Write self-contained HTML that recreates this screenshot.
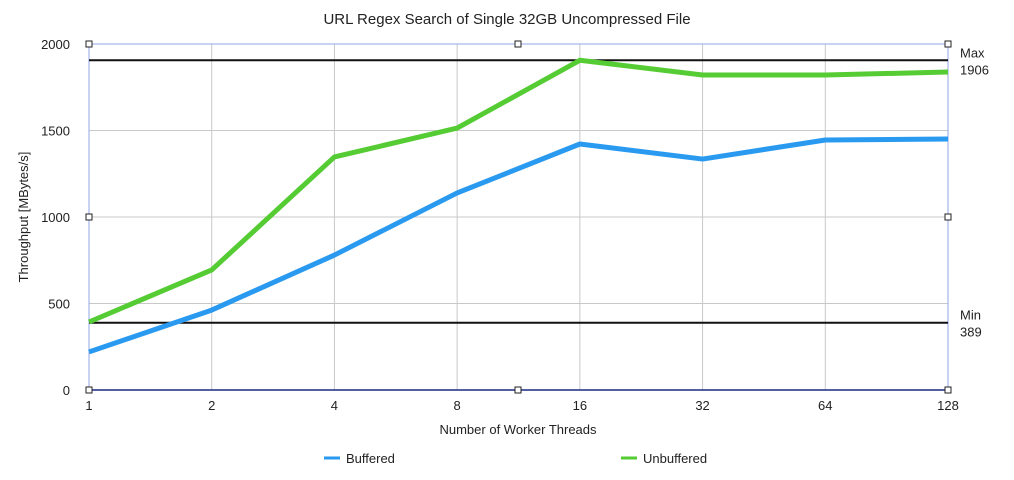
<!DOCTYPE html>
<html><head><meta charset="utf-8"><style>
body{margin:0;background:#fff;}
svg{display:block;font-family:"Liberation Sans",sans-serif;}
</style></head><body>
<svg id="c" width="1014" height="480" viewBox="0 0 1014 480"></svg>
<script>
const categories=["1","2","4","8","16","32","64","128"];
const buffered=[220,462,780,1139,1422,1335,1445,1451];
const unbuffered=[393,694,1347,1514,1906,1821,1821,1838];
const yTicks=[0,500,1000,1500,2000];
const maxVal=1906, minVal=389;
const NS="http://www.w3.org/2000/svg";
const svg=document.getElementById('c');
const X0=89,X1=948,Y0=390,Y1=44;
const x=i=>X0+i*(X1-X0)/(categories.length-1);
const y=v=>Y0-v*(Y0-Y1)/2000;
function el(t,a,p){const e=document.createElementNS(NS,t);for(const k in a)e.setAttribute(k,a[k]);(p||svg).appendChild(e);return e;}
let t=el('text',{x:507,y:24,'text-anchor':'middle','font-size':15,fill:'#222'});t.textContent="URL Regex Search of Single 32GB Uncompressed File";

yTicks.forEach(v=>{
 const g=el('line',{x1:X0,x2:X1,y1:y(v),y2:y(v),stroke:'#c8c8c8','stroke-width':1});
 
 const l=el('text',{x:70,y:y(v)+5,'text-anchor':'end','font-size':13,fill:'#222'});l.textContent=v;
 
});
categories.forEach((c,i)=>{
 const g=el('line',{x1:x(i),x2:x(i),y1:Y1,y2:Y0,stroke:'#c8c8c8','stroke-width':1});
 
 const l=el('text',{x:x(i),y:410,'text-anchor':'middle','font-size':13,fill:'#222'});l.textContent=c;
 
});
let b=el('rect',{x:X0,y:Y1,width:X1-X0,height:Y0-Y1,fill:'none',stroke:'#8fa6e8','stroke-width':1});

let ax=el('line',{x1:X0,x2:X1,y1:Y0,y2:Y0,stroke:'#1a2a80','stroke-width':1.5});

[[maxVal,"Max"],[minVal,"Min"]].forEach(([v,n])=>{
 const l=el('line',{x1:X0,x2:X1,y1:y(v),y2:y(v),stroke:'#111','stroke-width':2});
 
 const a=el('text',{x:960,y:y(v)-3,'font-size':13,fill:'#222'});a.textContent=n;
 
 const b2=el('text',{x:960,y:y(v)+14,'font-size':13,fill:'#222'});b2.textContent=v;
 
});
function series(d,col,name){
 const p=el('polyline',{points:d.map((v,i)=>x(i)+','+y(v)).join(' '),fill:'none',stroke:col,'stroke-width':5,'stroke-linejoin':'round'});
 
}
series(buffered,'#2a9af0','buffered-line');
series(unbuffered,'#55cc33','unbuffered-line');
[[X0,Y1],[518,Y1],[X1,Y1],[X0,217],[X1,217],[X0,Y0],[518,Y0],[X1,Y0]].forEach(([a,c])=>{
 const h=el('rect',{x:a-3,y:c-3,width:6,height:6,fill:'#fff',stroke:'#222','stroke-width':1});
 
});
let yt=el('text',{x:0,y:0,transform:'translate(28,217) rotate(-90)','text-anchor':'middle','font-size':13,fill:'#222'});yt.textContent="Throughput [MBytes/s]";

let xt=el('text',{x:518,y:434,'text-anchor':'middle','font-size':13,fill:'#222'});xt.textContent="Number of Worker Threads";

[[324,'#2a9af0','Buffered'],[621,'#55cc33','Unbuffered']].forEach(([lx,col,n])=>{
 const l=el('line',{x1:lx,x2:lx+16,y1:458,y2:458,stroke:col,'stroke-width':3});
 
 const tx=el('text',{x:lx+22,y:463,'font-size':13,fill:'#222'});tx.textContent=n;
 
});
</script>
</body></html>
